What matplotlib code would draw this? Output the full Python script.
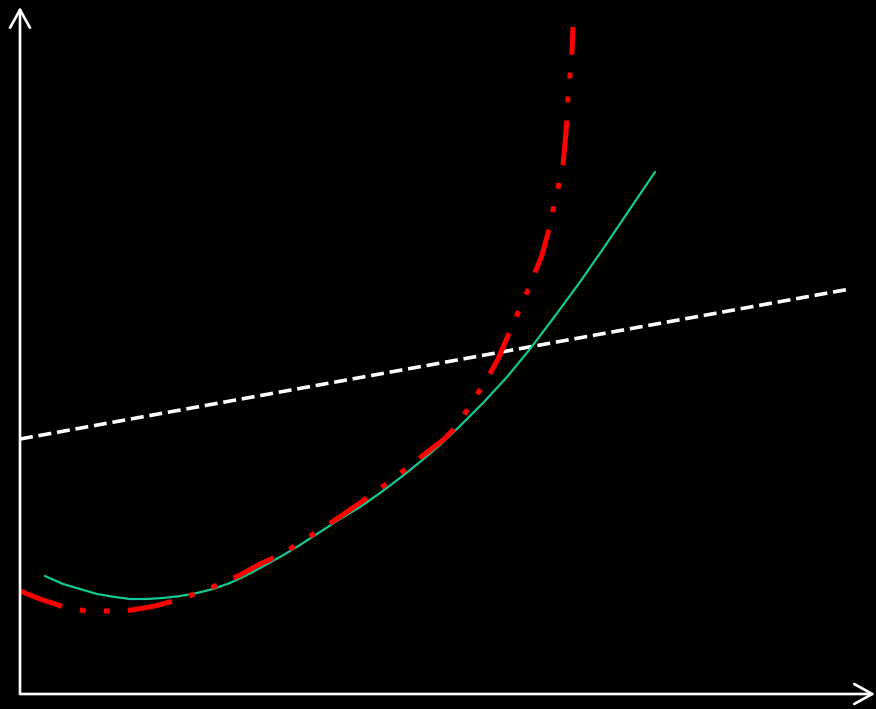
import matplotlib
matplotlib.use("Agg")
import matplotlib.pyplot as plt

# straight reference line (dashed white)
line_x = [0, 830]
line_y = [255, 405]

# smooth quadratic-like curve (teal)
teal_x = [25, 43, 60, 77, 95, 110, 127, 143, 160, 177, 193, 210, 225, 240,
          260, 280, 300, 320, 340, 360, 380, 400, 420, 440, 463, 487, 510,
          535, 560, 585, 610, 635]
teal_y = [118, 110, 105, 100, 97, 95, 95, 96, 98, 101, 105, 111, 118, 126,
          137, 149, 162, 175, 187, 201, 216, 232, 249, 268, 291, 317, 345,
          378, 412, 448, 485, 522]

# steep curve (red dash-dot-dot)
red_x = [0, 20, 44, 66, 90, 112, 135, 157, 177, 200, 220, 240, 262, 279, 300,
         318, 337, 355, 373, 392, 410, 423, 433, 442, 454, 467, 478, 487, 496,
         505, 514, 522, 528, 533, 538, 543, 545, 547, 548, 550, 552, 553]
red_y = [103, 95, 87, 83, 83, 84, 88, 94, 101, 110, 119, 130, 140, 151, 164,
         176, 189, 202, 215, 230, 244, 254, 264, 276, 295, 315, 335, 356, 377,
         397, 419, 439, 461, 484, 506, 529, 551, 574, 597, 619, 643, 667]

fig = plt.figure(figsize=(8.76, 7.09), dpi=100, facecolor="black")
ax = fig.add_axes([0, 0, 1, 1])
ax.set_facecolor("black")
ax.set_xlim(-20, 856)
ax.set_ylim(-15, 694)
ax.axis("off")

# axes with open arrow heads
arrow = dict(arrowstyle="->,head_length=13,head_width=7.2", color="white",
             lw=1.9, mutation_scale=1, shrinkA=0, shrinkB=0)
ax.annotate("", xy=(0, 687), xytext=(0, 0), arrowprops=arrow)
ax.annotate("", xy=(855, 0), xytext=(0, 0), arrowprops=arrow)

ax.plot(line_x, line_y, color="white", lw=2.6, dashes=(3.6, 1.6))
ax.plot(teal_x, teal_y, color="#14c896", lw=1.6, solid_capstyle="round",
        solid_joinstyle="round")
ax.plot(red_x, red_y, color="#ff0000", lw=3.6,
        dashes=(9, 3.6, 1.2, 3.6, 1.2, 3.6))

fig.savefig("out.png", dpi=100, facecolor="black")
